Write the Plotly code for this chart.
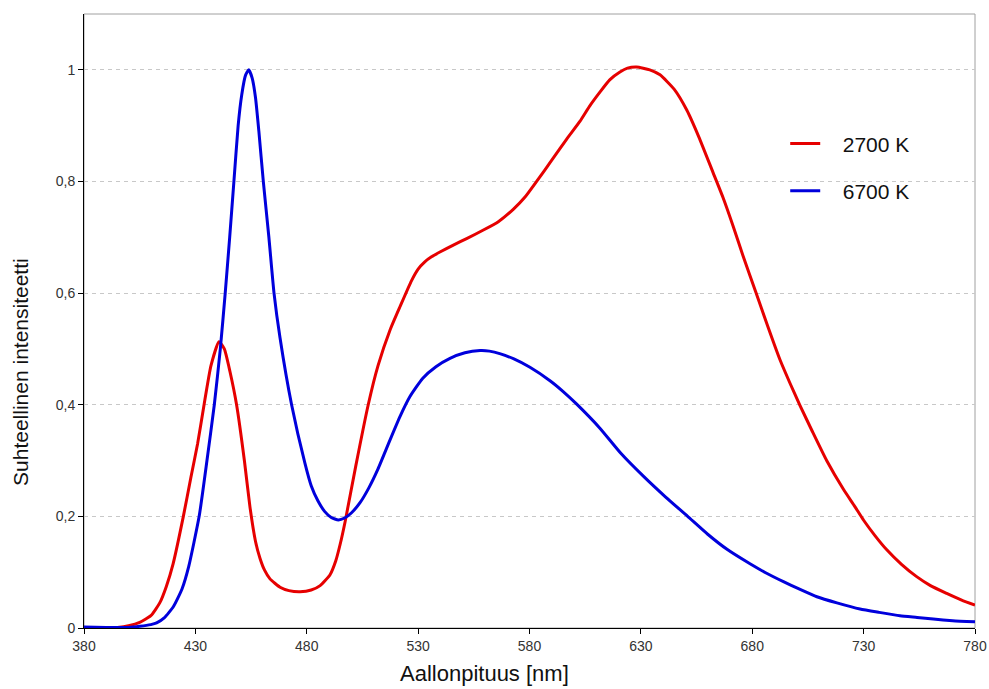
import plotly.graph_objects as go

# 2700 K spectrum (wavelength nm, relative intensity)
wl_2700 = [380, 390, 395, 400, 405, 410, 414, 417, 420, 424.6, 428, 431, 433.9, 437, 440.6, 443,
           445.5, 448.5, 452, 454.5, 457, 459, 461, 463.5, 468, 472, 477, 482, 486, 490.4, 493,
           495, 497.2, 502, 507.6, 512, 517.4, 521.9, 527, 530, 533, 536, 540, 545.8, 552, 559.3,
           566, 572.7, 578, 583.2, 590, 596.7, 602.7, 607, 611.6, 616, 620.6, 624, 628.1, 634,
           638.6, 645, 650.6, 656, 662.5, 667, 671.5, 676, 681.5, 687, 692.5, 697, 701.4, 707,
           713.4, 721, 726, 730, 735, 740.4, 747, 753.8, 760, 767.3, 774, 780]
int_2700 = [0.0, 0.0, 0.001, 0.004, 0.01, 0.022, 0.045, 0.075, 0.115, 0.2, 0.27, 0.33, 0.4, 0.47,
            0.513, 0.5, 0.46, 0.4, 0.3, 0.217, 0.155, 0.125, 0.104, 0.088, 0.073, 0.067, 0.065,
            0.068, 0.076, 0.095, 0.12, 0.15, 0.19, 0.29, 0.4, 0.47, 0.534, 0.576, 0.622, 0.643,
            0.656, 0.665, 0.674, 0.686, 0.698, 0.713, 0.728, 0.75, 0.772, 0.8, 0.838, 0.876,
            0.908, 0.935, 0.96, 0.982, 0.996, 1.003, 1.005, 1.0, 0.991, 0.965, 0.928, 0.88,
            0.815, 0.77, 0.719, 0.665, 0.603, 0.54, 0.48, 0.438, 0.399, 0.352, 0.3, 0.248,
            0.218, 0.193, 0.166, 0.14, 0.114, 0.092, 0.076, 0.062, 0.05, 0.041]

# 6700 K spectrum
wl_6700 = [380, 390, 400, 405, 410, 412.6, 416, 420.1, 424, 427, 431.7, 435.2, 438.5, 441.2, 443.4,
           445.4, 447.3, 449.2, 450.8, 452.5, 454, 455.5, 457, 458.5, 460.5, 463, 465.3, 468,
           473.2, 479.2, 482, 485, 488, 491, 494.2, 497, 500, 504, 508, 512, 517.4, 522, 526.4,
           532, 538, 544.3, 551, 557.8, 562, 567, 573, 580.2, 589.2, 595, 601.2, 611.6, 621,
           631.1, 641, 651, 660, 669, 679, 686, 694, 701, 709, 718, 728.4, 737, 746.3, 754,
           761.3, 770, 780]
int_6700 = [0.002, 0.001, 0.001, 0.003, 0.006, 0.009, 0.018, 0.038, 0.07, 0.11, 0.2, 0.3, 0.4,
            0.5, 0.6, 0.7, 0.8, 0.9, 0.955, 0.99, 1.0, 0.985, 0.95, 0.89, 0.8, 0.7, 0.6, 0.52,
            0.4, 0.295, 0.255, 0.228, 0.209, 0.198, 0.1935, 0.197, 0.206, 0.225, 0.252, 0.285,
            0.337, 0.38, 0.415, 0.447, 0.468, 0.483, 0.493, 0.497, 0.496, 0.491, 0.482, 0.467,
            0.443, 0.424, 0.401, 0.358, 0.313, 0.272, 0.235, 0.2, 0.168, 0.14, 0.115, 0.099,
            0.083, 0.07, 0.056, 0.045, 0.034, 0.028, 0.022, 0.019, 0.016, 0.013, 0.011]

x_ticks = [380, 430, 480, 530, 580, 630, 680, 730, 780]
y_ticks = [0, 0.2, 0.4, 0.6, 0.8, 1.0]
y_tick_labels = ["0", "0,2", "0,4", "0,6", "0,8", "1"]
x_title = "Aallonpituus [nm]"
y_title = "Suhteellinen intensiteetti"

pad = "\u00a0\u00a0\u00a0"

fig = go.Figure()
fig.add_trace(go.Scatter(x=wl_2700, y=int_2700, mode="lines", name=pad + "2700 K", legendgroup="a",
                         line=dict(color="#e60000", width=3, shape="spline", smoothing=0.5)))
fig.add_trace(go.Scatter(x=wl_6700, y=int_6700, mode="lines", name=pad + "6700 K", legendgroup="b",
                         line=dict(color="#0000dc", width=3, shape="spline", smoothing=0.5)))

fig.add_shape(type="rect", xref="paper", yref="paper", x0=0, x1=1, y0=0, y1=1,
              line=dict(color="#a0a0a0", width=1), layer="below")

# axis titles (placed off-centre as in the original)
fig.add_annotation(text=x_title, xref="paper", yref="paper", x=0.449, y=0, yshift=-45,
                   xanchor="center", yanchor="middle", showarrow=False,
                   font=dict(size=22, color="#111"))
fig.add_annotation(text=y_title, xref="paper", yref="paper", x=0, y=0.417, xshift=-63,
                   xanchor="center", yanchor="middle", showarrow=False, textangle=-90,
                   font=dict(size=21, color="#111"))

fig.update_layout(
    width=989, height=689,
    margin=dict(l=84, r=14, t=14, b=61),
    paper_bgcolor="white", plot_bgcolor="white",
    font=dict(family="Liberation Sans, Arial, sans-serif", color="#222"),
    showlegend=True,
    legend=dict(x=0.787, y=0.822, xanchor="left", yanchor="top", bgcolor="rgba(0,0,0,0)",
                font=dict(size=21, color="#111"), traceorder="grouped", tracegroupgap=17),
    xaxis=dict(range=[380, 780], tickvals=x_ticks, showgrid=False, zeroline=False,
               showline=True, linecolor="black", linewidth=1, ticks="outside", ticklen=5,
               tickcolor="black", tickfont=dict(size=14, color="#333"), automargin=False),
    yaxis=dict(range=[0, 1.1], tickvals=y_ticks, ticktext=y_tick_labels, showgrid=True,
               gridcolor="#c8c8c8", griddash="4px,4px", gridwidth=1, zeroline=False,
               showline=True, linecolor="black", linewidth=1, ticks="outside", ticklen=5,
               tickcolor="black", tickfont=dict(size=14, color="#333"), automargin=False),
)

fig.write_html("out.html")
